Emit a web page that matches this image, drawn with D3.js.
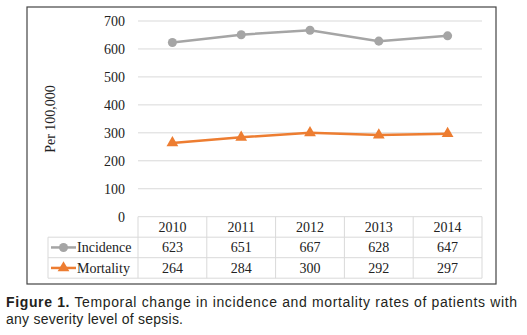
<!DOCTYPE html>
<html lang="en">
<head>
<meta charset="UTF-8" />
<title>Sepsis incidence and mortality</title>
<script src="https://cdn.jsdelivr.net/npm/d3@7"></script>
<style>
    body { margin: 0; background: #fff; }
    svg { display: block; }
</style>
</head>
<body>
<div id="container"></div>
<script>
    const years = ['2010', '2011', '2012', '2013', '2014']
    const incidence = [623, 651, 667, 628, 647]
    const mortality = [264, 284, 300, 292, 297]
    const yTicks = [0, 100, 200, 300, 400, 500, 600, 700]

    const width = 527
    const height = 335
    const serif = '"Liberation Serif", "DejaVu Serif", serif'
    const sans = '"Liberation Sans", Arial, sans-serif'

    const svg = d3.select('#container').append('svg').attr('width', width).attr('height', height)

    // outer frame around chart + data table
    svg.append('rect')
        .attr('x', 27).attr('y', 7).attr('width', 469).attr('height', 277)
        .attr('fill', 'none').attr('stroke', '#444').attr('stroke-width', 1.2)

    const plotLeft = 138
    const plotRight = 482
    const x = d3.scaleBand().domain(years).range([plotLeft, plotRight])
    const y = d3.scaleLinear().domain([0, 700]).range([216.7, 21])

    // gridlines
    svg.append('g')
        .selectAll('line')
        .data(yTicks.filter((d) => d > 0))
        .enter()
        .append('line')
        .attr('x1', plotLeft).attr('x2', plotRight)
        .attr('y1', (d) => y(d)).attr('y2', (d) => y(d))
        .attr('stroke', '#d9d9d9').attr('stroke-width', 1)

    // y axis labels
    const yAxis = svg.append('g')
        .attr('transform', `translate(${plotLeft - 13},0)`)
        .call(d3.axisLeft(y).tickValues(yTicks).tickSize(0).tickPadding(0))
    yAxis.select('.domain').remove()
    yAxis.selectAll('text')
        .attr('font-family', serif).attr('font-size', 14).attr('fill', '#222')

    svg.append('text')
        .attr('transform', 'translate(55,119) rotate(-90)')
        .attr('text-anchor', 'middle')
        .attr('font-family', serif).attr('font-size', 14).attr('fill', '#222')
        .text('Per 100,000')

    // data table below the plot
    const rowTop = y(0)
    const rowH = 20.5
    const legendLeft = 48
    const grid = svg.append('g').attr('stroke', '#d9d9d9').attr('stroke-width', 1)
    for (let r = 0; r <= 3; r++) {
        grid.append('line')
            .attr('x1', r === 0 ? plotLeft : legendLeft).attr('x2', plotRight)
            .attr('y1', rowTop + r * rowH).attr('y2', rowTop + r * rowH)
    }
    years.forEach((yr, i) => {
        grid.append('line')
            .attr('x1', x(yr)).attr('x2', x(yr))
            .attr('y1', rowTop).attr('y2', rowTop + 3 * rowH)
    })
    grid.append('line')
        .attr('x1', plotRight).attr('x2', plotRight)
        .attr('y1', rowTop).attr('y2', rowTop + 3 * rowH)
    grid.append('line')
        .attr('x1', legendLeft).attr('x2', legendLeft)
        .attr('y1', rowTop + rowH).attr('y2', rowTop + 3 * rowH)

    const cx = (d) => x(d) + x.bandwidth() / 2
    const rows = [years, incidence, mortality]
    rows.forEach((vals, r) => {
        svg.append('g')
            .selectAll('text')
            .data(vals)
            .enter()
            .append('text')
            .attr('x', (d, i) => cx(years[i]))
            .attr('y', rowTop + r * rowH + rowH / 2)
            .attr('dy', '0.35em')
            .attr('text-anchor', 'middle')
            .attr('font-family', serif).attr('font-size', 14).attr('fill', '#222')
            .text((d) => d)
    })

    const series = [
        { name: 'Incidence', values: incidence, color: '#a5a5a5', marker: d3.symbolCircle, size: 64 },
        { name: 'Mortality', values: mortality, color: '#ed7d31', marker: d3.symbolTriangle, size: 60 },
    ]

    // legend keys in the table
    series.forEach((s, r) => {
        const ly = rowTop + (r + 1) * rowH + rowH / 2
        svg.append('line')
            .attr('x1', 51).attr('x2', 76).attr('y1', ly).attr('y2', ly)
            .attr('stroke', s.color).attr('stroke-width', 2.5)
        svg.append('path')
            .attr('d', d3.symbol().type(s.marker).size(s.size))
            .attr('transform', `translate(63.5,${ly})`)
            .attr('fill', s.color)
        svg.append('text')
            .attr('x', 77).attr('y', ly).attr('dy', '0.35em')
            .attr('font-family', serif).attr('font-size', 14).attr('fill', '#222')
            .text(s.name)
    })

    // lines and markers
    const line = d3.line().x((d, i) => cx(years[i])).y((d) => y(d))
    series.forEach((s) => {
        svg.append('path')
            .attr('d', line(s.values))
            .attr('fill', 'none').attr('stroke', s.color).attr('stroke-width', 2.5)
        svg.append('g')
            .selectAll('path')
            .data(s.values)
            .enter()
            .append('path')
            .attr('d', d3.symbol().type(s.marker).size(s.size))
            .attr('transform', (d, i) => `translate(${cx(years[i])},${y(d)})`)
            .attr('fill', s.color)
    })

    // figure caption
    const cap = svg.append('text')
        .attr('x', 6).attr('y', 307)
        .attr('font-family', sans).attr('font-size', 14).attr('fill', '#231f20')
        .attr('textLength', 511).attr('lengthAdjust', 'spacing')
    cap.append('tspan').attr('font-weight', 'bold').text('Figure 1.')
    cap.append('tspan').text(' Temporal change in incidence and mortality rates of patients with')
    svg.append('text')
        .attr('x', 6).attr('y', 324)
        .attr('font-family', sans).attr('font-size', 14).attr('fill', '#231f20')
        .attr('textLength', 177).attr('lengthAdjust', 'spacing')
        .text('any severity level of sepsis.')
</script>
</body>
</html>
